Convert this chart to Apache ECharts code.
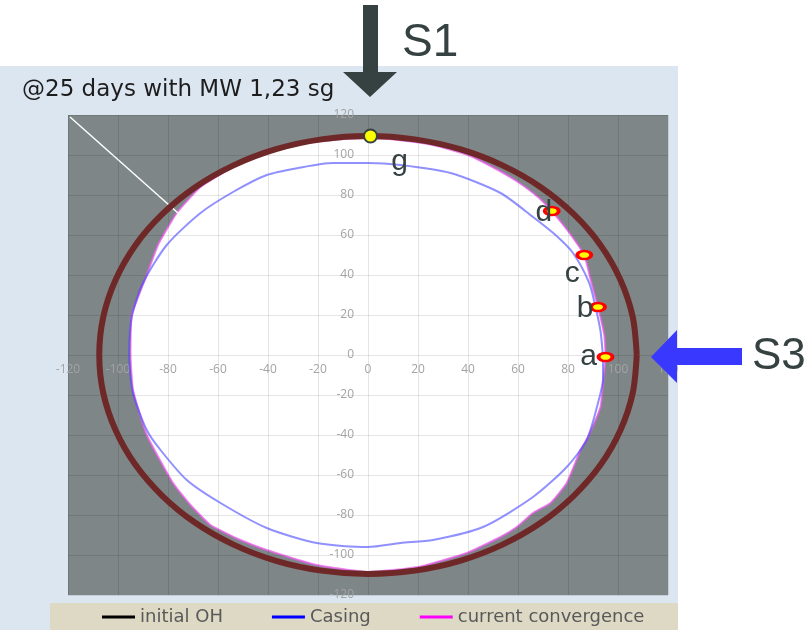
<!DOCTYPE html>
<html><head><meta charset="utf-8">
<script src="https://cdn.jsdelivr.net/npm/echarts@6/dist/echarts.min.js"></script>
<style>html,body{margin:0;padding:0;background:#fff}#c{width:808px;height:630px}</style>
</head><body><div id="c"></div>
<script>
// ---- data ----
const axisMin = -120, axisMax = 120, axisStep = 20;
const titleText = '@25 days with MW 1,23 sg';
const seriesNames = ['initial OH', 'Casing', 'current convergence'];

const convergence = [[95,-1],[94.5,10],[92,24],[89,38],[86.5,50],[80,62],[73.5,72],[68,79],[60,86.5],[52,92.5],[40,100],[26,105],[12,107.5],[0,108.5],[-14,107.5],[-28,105.5],[-40.5,102.5],[-54,94],[-67,84],[-76.5,71],[-84,55],[-88.5,40],[-94.5,20],[-95,0],[-94,-17.5],[-88.5,-40],[-78,-64],[-71,-75],[-63,-85],[-51,-92.5],[-40.5,-97.5],[-20.5,-105],[0,-108.5],[20,-106],[39.5,-99],[53,-91],[59.5,-86],[66,-79],[73,-74],[79.5,-64],[85,-47.5],[88,-41],[93,-26],[94,-14]];

const casing = [[94,-1],[93,12],[91,24],[88.5,36],[82,51],[75,60],[66,69],[53,81],[33,91],[13,95],[0,96],[-14,96],[-28,93.5],[-40.5,90],[-54,81.5],[-67,71],[-80.5,55],[-90,36],[-94.5,19],[-95.5,0],[-94,-19],[-88.5,-37.5],[-83,-47.5],[-72.5,-62.5],[-59,-74],[-40.5,-86.5],[-20.5,-94],[0,-96],[13,-94],[26,-92.5],[46,-86],[66,-71],[79.5,-56],[87.5,-42.5],[92,-24],[94,-12],[94,-1]];

const initialOH = [[107.5,0],[105.9,19],[101,37.5],[93.1,54.8],[82.3,70.4],[69.1,83.9],[53.8,94.8],[36.8,102.9],[18.7,107.8],[0,109.5],[-18.7,107.8],[-36.8,102.9],[-53.8,94.8],[-69.1,83.9],[-82.3,70.4],[-93.1,54.8],[-101,37.5],[-105.9,19],[-107.5,0],[-105.9,-19],[-101,-37.5],[-93.1,-54.8],[-82.3,-70.4],[-69.1,-83.9],[-53.8,-94.8],[-36.8,-102.9],[-18.7,-107.8],[0,-109.5],[18.7,-107.8],[36.8,-102.9],[53.8,-94.8],[69.1,-83.9],[82.3,-70.4],[93.1,-54.8],[101,-37.5],[105.9,-19],[107.5,0]];

const diagLine = [[-119.2,119],[-76,71]];

const pointNames = ['a','b','c','d'];
const pointValues = [[95,-1],[92,24],[86.5,50],[73.5,72]];
const gPoint = [[1,109.5]];
const gName = 'g';

// ---- chart ----
const chart = echarts.init(document.getElementById('c'), null, {renderer:'canvas'});
const labelOffsets = {a:[-17,0], b:[-13,2], c:[-12,19], d:[-8,2]};
const letterFont = {fontFamily:'Liberation Sans, Arial, sans-serif', fontSize:30, color:'#364142'};
const hiddenLine = {show:false, onZero:false};
const gridBox = {left:68, right:140, top:115, bottom:35};
const plotW = 808 - gridBox.left - gridBox.right, plotH = 630 - gridBox.top - gridBox.bottom;

chart.setOption({
  animation:false,
  backgroundColor:'#ffffff',
  title:{ text:titleText, left:17, top:74,
    textStyle:{fontFamily:'DejaVu Sans', fontSize:23, fontWeight:'normal', color:'#1d1d1d'} },
  grid:{ ...gridBox, show:true, backgroundColor:'#7e8687', borderWidth:0, containLabel:false },
  xAxis:{ type:'value', position:'bottom', offset:-plotH/2, min:axisMin, max:axisMax, interval:axisStep, z:5,
    axisLine:hiddenLine, axisTick:{show:false},
    axisLabel:{color:'#a3a3a3', fontSize:12, fontFamily:'Open Sans', margin:9},
    splitLine:{show:true, lineStyle:{color:'rgba(0,0,0,0.1)', width:1}} },
  yAxis:{ type:'value', position:'left', offset:-plotW/2, min:axisMin, max:axisMax, interval:axisStep, z:5,
    axisLine:hiddenLine, axisTick:{show:false},
    axisLabel:{color:'#a3a3a3', fontSize:12, fontFamily:'Open Sans', margin:14},
    splitLine:{show:true, lineStyle:{color:'rgba(0,0,0,0.1)', width:1}} },
  legend:{ left:102, top:608, padding:0, icon:'rect', itemWidth:33, itemHeight:3, itemGap:49,
    textStyle:{fontFamily:'DejaVu Sans', fontSize:18, color:'#595959'},
    data:[
      {name:seriesNames[0], itemStyle:{color:'#000000'}, lineStyle:{color:'#000000'}},
      {name:seriesNames[1], itemStyle:{color:'#0000ff'}, lineStyle:{color:'#0000ff'}},
      {name:seriesNames[2], itemStyle:{color:'#ff00ff'}, lineStyle:{color:'#ff00ff'}}
    ] },
  graphic:[
    {type:'rect', z:-100, shape:{x:0,y:66,width:678,height:564}, style:{fill:'#dce6f1'}},
    {type:'rect', z:-99, shape:{x:50,y:603,width:628,height:27}, style:{fill:'#ddd9c4'}},
    {type:'polygon', z:100, shape:{points:[[363,5],[378,5],[378,72],[397,72],[370,97],[343,72],[363,72]]}, style:{fill:'#364142'}},
    {type:'text', z:100, left:402, top:20, style:{text:'S1', fontFamily:'Liberation Sans, Arial, sans-serif', fontSize:46, fill:'#364142'}},
    {type:'polygon', z:100, shape:{points:[[651,357],[677,330],[677,348],[742,348],[742,365],[677,365],[677,383]]}, style:{fill:'#3838ff'}},
    {type:'text', z:100, left:752, top:335, style:{text:'S3', fontFamily:'Liberation Sans, Arial, sans-serif', fontSize:44, fill:'#364142'}}
  ],
  series:[
    { type:'custom', name:seriesNames[2], z:2, silent:true, data:convergence,
      itemStyle:{color:'#ff00ff'},
      renderItem:function(params, api){
        if (params.dataIndex !== 0) return;
        const pts = convergence.map(p => api.coord(p));
        return {type:'polygon', shape:{points:pts, smooth:0.15},
          style:{fill:'#ffffff', stroke:'rgba(235,90,235,0.75)', lineWidth:2}};
      } },
    { type:'line', name:'diag', z:3, silent:true, data:diagLine, symbol:'none',
      lineStyle:{color:'#ffffff', width:1.5} },
    { type:'line', name:seriesNames[1], z:10, data:casing, symbol:'none', smooth:0.25,
      itemStyle:{color:'#0000ff'}, lineStyle:{color:'rgba(70,70,255,0.6)', width:2} },
    { type:'line', name:seriesNames[0], z:11, data:initialOH, symbol:'none', smooth:0.3,
      itemStyle:{color:'#000000'}, lineStyle:{color:'#6f2828', width:6} },
    { type:'scatter', name:'points', z:12, symbol:'circle', symbolSize:[14,8],
      itemStyle:{color:'#ffff00', borderColor:'#ff0000', borderWidth:3, opacity:1},
      data:pointValues.map((v,i)=>({value:v, name:pointNames[i],
        label:{show:true, position:'inside', offset:labelOffsets[pointNames[i]], formatter:pointNames[i], ...letterFont}})) },
    { type:'scatter', name:'gpoint', z:12, symbol:'circle', symbolSize:13,
      itemStyle:{color:'#ffff00', borderColor:'#364142', borderWidth:2, opacity:1},
      data:gPoint.map(v=>({value:v, name:gName,
        label:{show:true, position:'inside', offset:[29,26], formatter:gName, ...letterFont}})) }
  ]
});
</script>
</body></html>
